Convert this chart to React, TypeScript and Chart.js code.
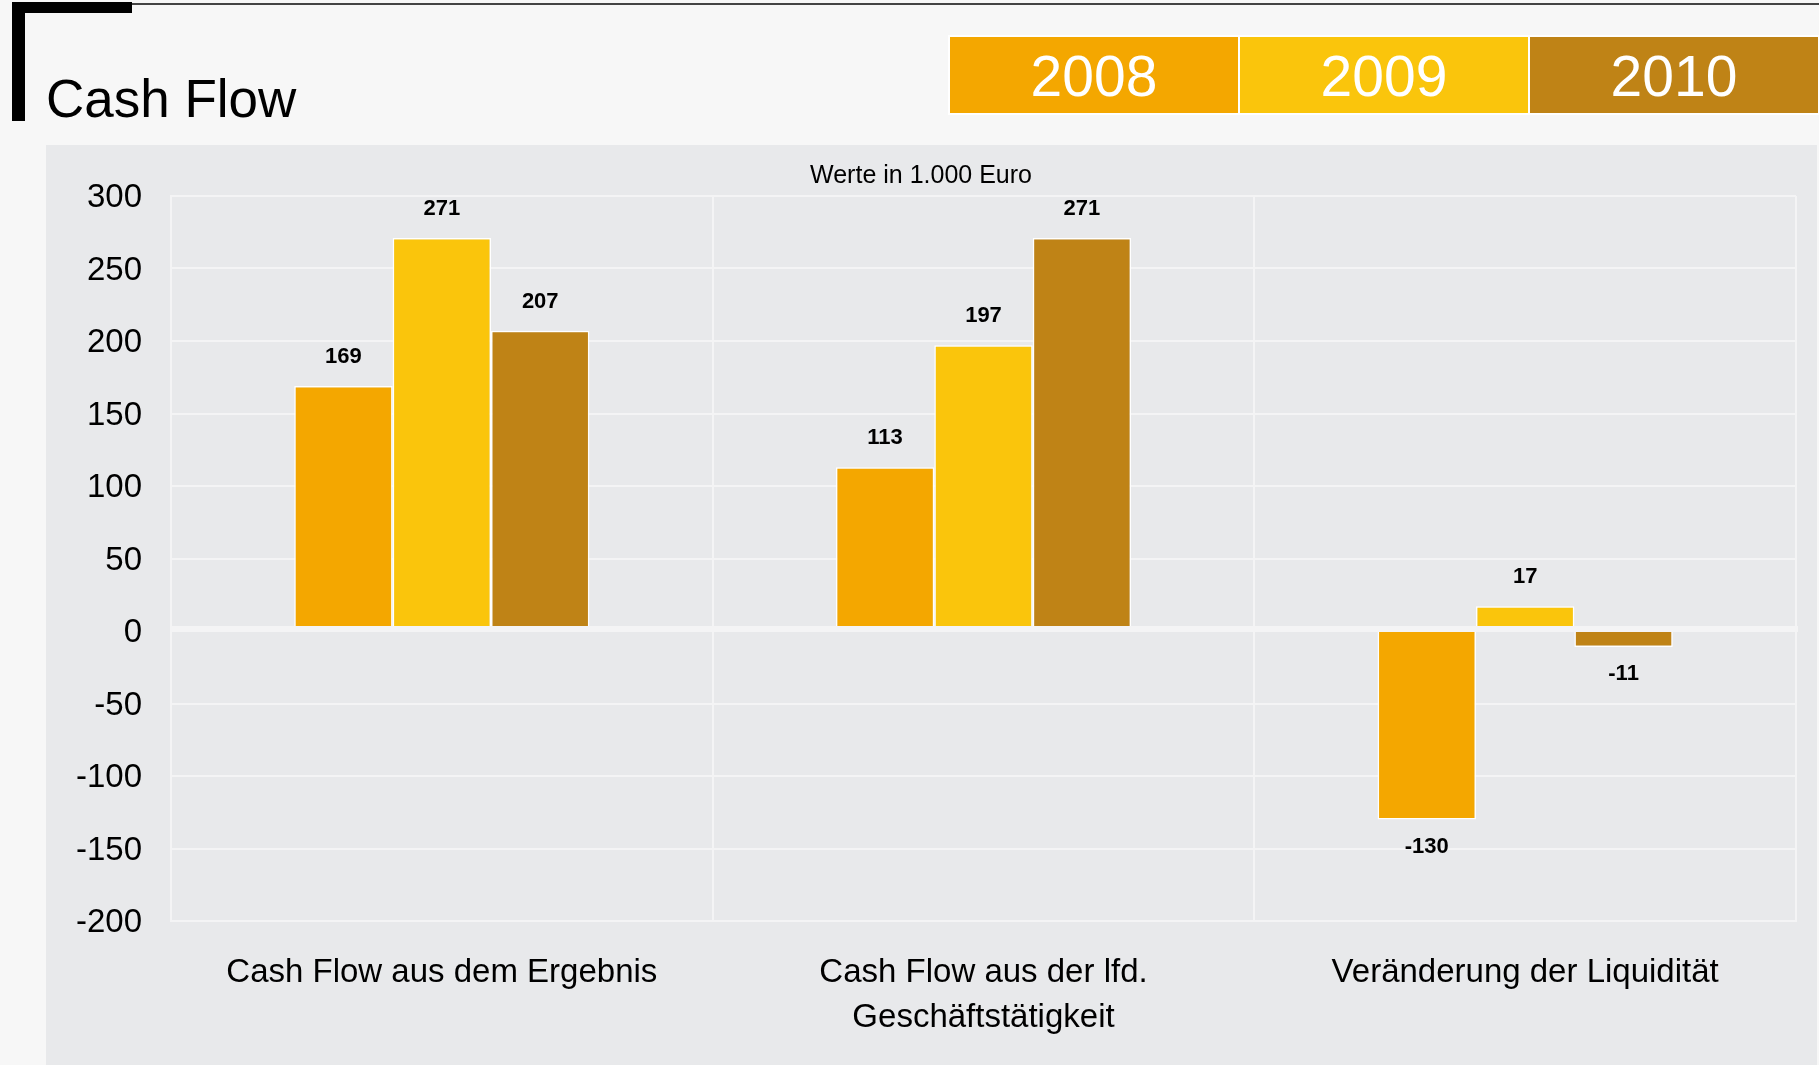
import React, { useEffect, useRef } from "react";
import { Chart, registerables } from "chart.js";

Chart.register(...registerables);

const categories: string[][] = [
  ["Cash Flow aus dem Ergebnis"],
  ["Cash Flow aus der lfd.", "Geschäftstätigkeit"],
  ["Veränderung der Liquidität"],
];
const years = ["2008", "2009", "2010"];
const values2008 = [169, 113, -130];
const values2009 = [271, 197, 17];
const values2010 = [207, 271, -11];
const yearColors = ["#F4A700", "#FAC50C", "#BF8316"];
const yMin = -200;
const yMax = 300;
const yStep = 50;
const unitNote = "Werte in 1.000 Euro";
const pageTitle = "Cash Flow";

const FONT = '"Liberation Sans", Arial, Helvetica, sans-serif';
const GRID = "#f4f4f5";

const zeroLinePlugin = {
  id: "zeroLine",
  afterDatasetsDraw(chart: any) {
    const { ctx, chartArea, scales } = chart;
    const y = scales.y.getPixelForValue(0);
    ctx.save();
    ctx.fillStyle = GRID;
    ctx.fillRect(chartArea.left, y - 5, chartArea.right - chartArea.left + 2, 6);
    ctx.restore();
  },
};

const valueLabelPlugin = {
  id: "valueLabels",
  afterDatasetsDraw(chart: any) {
    const { ctx } = chart;
    ctx.save();
    ctx.font = `bold 22px ${FONT}`;
    ctx.fillStyle = "#000";
    ctx.textAlign = "center";
    ctx.textBaseline = "middle";
    chart.data.datasets.forEach((ds: any, di: number) => {
      const meta = chart.getDatasetMeta(di);
      meta.data.forEach((bar: any, i: number) => {
        const v = ds.data[i];
        const y = v >= 0 ? bar.y - 29 : bar.y + 27;
        ctx.fillText(String(v), bar.x, y);
      });
    });
    ctx.restore();
  },
};

function CashFlowChart() {
  const ref = useRef<HTMLCanvasElement | null>(null);
  useEffect(() => {
    if (!ref.current) return;
    const seriesValues = [values2008, values2009, values2010];
    const chart = new Chart(ref.current, {
      type: "bar",
      data: {
        labels: categories,
        datasets: years.map((yr, i) => ({
          label: yr,
          data: seriesValues[i],
          backgroundColor: yearColors[i],
          borderColor: "#ffffff",
          borderWidth: 1.5,
          categoryPercentage: 0.545,
          barPercentage: 1.0,
        })),
      },
      options: {
        responsive: false,
        animation: false,
        devicePixelRatio: 1,
        layout: { padding: { left: 0, right: 21, top: 0, bottom: 0 } },
        plugins: {
          legend: { display: false },
          tooltip: { enabled: false },
          title: {
            display: true,
            text: unitNote,
            color: "#000",
            font: { family: FONT, size: 25, weight: "normal", lineHeight: 1.2 },
            padding: { top: 16, bottom: 5 },
          },
        },
        scales: {
          x: {
            offset: true,
            grid: { offset: true, color: GRID, lineWidth: 2, drawTicks: false },
            border: { display: true, color: GRID, width: 2 },
            ticks: {
              color: "#000",
              padding: 30,
              maxRotation: 0,
              autoSkip: false,
              font: { family: FONT, size: 33, lineHeight: 1.35 },
            },
            afterFit: (scale: any) => {
              scale.height = 144;
            },
          },
          y: {
            min: yMin,
            max: yMax,
            grid: { color: GRID, lineWidth: 2, drawTicks: false },
            border: { display: true, color: GRID, width: 2 },
            ticks: {
              stepSize: yStep,
              color: "#000",
              padding: 29,
              labelOffset: 2,
              font: { family: FONT, size: 33 },
            },
            afterFit: (scale: any) => {
              scale.width = 125;
            },
          },
        },
      },
      plugins: [zeroLinePlugin, valueLabelPlugin],
    } as any);
    return () => chart.destroy();
  }, []);
  return <canvas ref={ref} width={1771} height={920} style={{ display: "block", width: 1771, height: 920 }} />;
}

export default function App() {
  return (
    <div
      style={{
        position: "fixed",
        left: 0,
        top: 0,
        width: 1819,
        height: 1065,
        background: "#f7f7f7",
        overflow: "hidden",
        fontFamily: FONT,
      }}
    >
      {/* corner mark */}
      <div style={{ position: "absolute", left: 132, top: 3, width: 1687, height: 2, background: "#444" }} />
      <div style={{ position: "absolute", left: 12, top: 2, width: 120, height: 11, background: "#000" }} />
      <div style={{ position: "absolute", left: 12, top: 2, width: 13, height: 119, background: "#000" }} />
      {/* title */}
      <div
        style={{
          position: "absolute",
          left: 46,
          top: 72,
          fontSize: 53,
          lineHeight: "53px",
          color: "#000",
          whiteSpace: "nowrap",
        }}
      >
        {pageTitle}
      </div>
      {/* legend boxes */}
      <div
        style={{
          position: "absolute",
          left: 948,
          top: 35,
          padding: 2,
          background: "#ffffff",
          display: "flex",
          gap: 2,
        }}
      >
        {years.map((yr, i) => (
          <div
            key={yr}
            style={{
              width: 288,
              height: 76,
              background: yearColors[i],
              color: "#ffffff",
              fontSize: 57,
              lineHeight: "57px",
              display: "flex",
              alignItems: "center",
              justifyContent: "center",
              paddingTop: 3,
              boxSizing: "border-box",
            }}
          >
            {yr}
          </div>
        ))}
      </div>
      {/* chart panel */}
      <div
        style={{
          position: "absolute",
          left: 46,
          top: 145,
          width: 1771,
          height: 920,
          background: "#e8e9eb",
        }}
      >
        <CashFlowChart />
      </div>
    </div>
  );
}
